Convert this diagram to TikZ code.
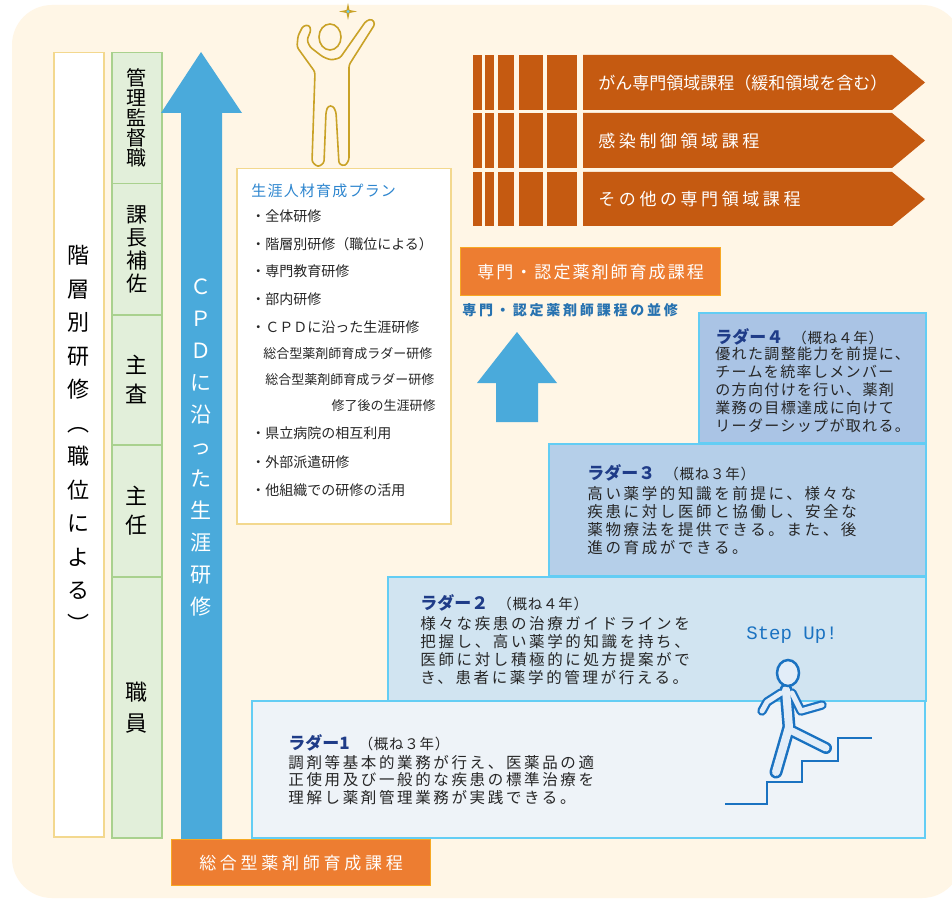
\documentclass[tikz,border=0pt]{standalone}
\usepackage{fontspec}
\setmainfont{Noto Sans CJK JP}
\newfontfamily\stepupfont{Liberation Mono}

\definecolor{cream}{HTML}{FFF6E6}
\definecolor{goldline}{HTML}{F3D88E}
\definecolor{rankfill}{HTML}{E2EFDA}
\definecolor{rankline}{HTML}{A9D18E}
\definecolor{cpdblue}{HTML}{4AAADB}
\definecolor{courseorange}{HTML}{ED7D31}
\definecolor{courseline}{HTML}{F7A823}
\definecolor{fieldbrown}{HTML}{C55A11}
\definecolor{planblue}{HTML}{2E86CF}
\definecolor{laddernavy}{HTML}{1F3C88}
\definecolor{ladderline}{HTML}{63CDF4}
\definecolor{ladderA}{HTML}{EEF3F8}
\definecolor{ladderB}{HTML}{D1E4F1}
\definecolor{ladderC}{HTML}{B5CFE9}
\definecolor{ladderD}{HTML}{AAC4E5}
\definecolor{figgold}{HTML}{C9A227}
\definecolor{walkblue}{HTML}{1A72C1}
\definecolor{walkfill}{HTML}{E2EDF8}

\tikzstyle{box}=[draw=goldline,fill=white,line width=1.5pt,inner sep=0pt,anchor=north west]
\tikzstyle{rank}=[draw=rankline,fill=rankfill,line width=1.5pt,inner sep=0pt,minimum width=50pt,anchor=north west,align=center]
\tikzstyle{vtext}=[inner sep=0pt,align=center]
\tikzstyle{course}=[draw=courseline,fill=courseorange,line width=1.2pt,text=white,inner sep=0pt,anchor=north west]
\tikzstyle{field}=[anchor=west,inner sep=0pt,text=white]
\tikzstyle{item}=[anchor=west,inner sep=0pt,text=black!85,font=\fontsize{14}{16}\selectfont]
\tikzstyle{ladder}=[draw=ladderline,line width=1.5pt,inner sep=0pt,anchor=north west]
\tikzstyle{ladtitle}=[anchor=base west,inner sep=0pt,text=black!85]
% body text: anchored at the baseline of its last line
\tikzstyle{ladbody}=[anchor=base west,inner sep=0pt,align=left,text=black!85,font=\fontsize{15.5}{18}\selectfont\addfontfeature{LetterSpace=17}]

\newcommand\laddertitle[2]{{\fontsize{17}{18}\selectfont\bfseries\color{laddernavy}#1}\hspace{9pt}{\fontsize{14.5}{15}\selectfont\addfontfeature{LetterSpace=5}（概ね#2年）}}

\begin{document}
\begin{tikzpicture}[x=1pt,y=-1pt,thick]
\useasboundingbox[fill=white] (0,0) rectangle (952,901);
\fill[cream,rounded corners=40pt] (12,5) rectangle (962,898);

% rank columns on the left
\node[box,minimum width=50pt,minimum height=784pt] (kaiso) at (53,52) {};
\node[vtext,font=\fontsize{22}{33.5}\selectfont] (kaisotext) at (78,439)
  {階\\層\\別\\研\\修\\︵\\職\\位\\に\\よ\\る\\︶};

\node[rank,minimum height=131pt,font=\fontsize{20}{20}\selectfont] (kanri) at (111,52) {管\\理\\監\\督\\職};
\node[rank,minimum height=131pt,font=\fontsize{21}{23}\selectfont] (kacho) at (111,183) {課\\長\\補\\佐};
\node[rank,minimum height=130pt,font=\fontsize{22}{29}\selectfont] (shusa) at (111,314) {主\\査};
\node[rank,minimum height=132pt,font=\fontsize{22}{29}\selectfont] (shunin) at (111,444) {主\\任};
\node[rank,minimum height=261pt,font=\fontsize{22}{31}\selectfont] (shokuin) at (111,576) {職\\員};

% CPD arrow
\fill[cpdblue] (181,839) -- (181,113) -- (161,113) -- (201,52) -- (242,113) -- (222,113) -- (222,839) -- cycle;
\node[vtext,text=white,font=\fontsize{21}{32}\selectfont] (cpdtext) at (201,447)
  {Ｃ\\Ｐ\\Ｄ\\に\\沿\\っ\\た\\生\\涯\\研\\修};
\node[course,minimum width=259pt,minimum height=46pt,font=\fontsize{17}{18}\selectfont\addfontfeature{LetterSpace=22}] (sogo) at (171,839) {総合型薬剤師育成課程};

% person on top of the plan
\draw[figgold,fill=cream,line width=1.6pt,rounded corners=2.5pt]
  (315,72) -- (297,47) -- (298,36) -- (303,26) -- (309,25) -- (311,30) -- (307,40) -- (310,47)
  -- (323,57) -- (331,60) -- (340,58) -- (366,21) -- (372,19) -- (375,24) -- (349,65)
  -- (349,160) -- (345,166) -- (339,164) -- (336,112) -- (333,106) -- (328,106) -- (326,112)
  -- (324,163) -- (318,167) -- (312,162) -- cycle;
\draw[figgold,fill=cream,line width=1.6pt] (330,37) ellipse [x radius=11,y radius=13];
\fill[figgold] (348,3) -- (349.5,10) -- (357,11.5) -- (349.5,13) -- (348,20) -- (346.5,13) -- (339,11.5) -- (346.5,10) -- cycle;
\fill[cyan!60] (348,11.5) circle (1.6);

% career plan
\node[box,minimum width=214pt,minimum height=355pt] (plan) at (236,168) {};
\node[anchor=west,inner sep=0pt,text=planblue,font=\fontsize{15}{16}\selectfont\addfontfeature{LetterSpace=8}] (plantitle) at (251,191) {生涯人材育成プラン};
\foreach \y/\t in {216/全体研修,244/階層別研修（職位による）,271/専門教育研修,299/部内研修,327/ＣＰＤに沿った生涯研修,433/県立病院の相互利用,462/外部派遣研修,490/他組織での研修の活用}
  \node[item] (item\y) at (251,\y) {・\t};
\node[item,font=\fontsize{13}{14}\selectfont] (ladderplan) at (263,354) {総合型薬剤師育成ラダー研修};
\node[item,font=\fontsize{13}{14}\selectfont] (ladderplanb) at (265,380) {総合型薬剤師育成ラダー研修};
\node[item,anchor=east,font=\fontsize{13}{14}\selectfont] (afterplan) at (436,406) {修了後の生涯研修};

% specialist fields
\foreach \ya/\yb in {55/110,113/168,172/226} {
  \foreach \xa/\xb in {473/482,485/494,498/514,519/543,547/577}
    \fill[fieldbrown] (\xa,\ya) rectangle (\xb,\yb);
  \fill[fieldbrown] (583,\ya) -- (892,\ya) -- (925,{(\ya+\yb)/2}) -- (892,\yb) -- (583,\yb) -- cycle;
}
\node[field,font=\fontsize{17}{18}\selectfont] (gan) at (598,83) {がん専門領域課程（緩和領域を含む）};
\node[field,font=\fontsize{17}{18}\selectfont\addfontfeature{LetterSpace=21}] (kansen) at (598,141) {感染制御領域課程};
\node[field,font=\fontsize{17}{18}\selectfont\addfontfeature{LetterSpace=21}] (sonota) at (598,199) {その他の専門領域課程};

\node[course,minimum width=260pt,minimum height=48pt,font=\fontsize{17}{18}\selectfont\addfontfeature{LetterSpace=12}] (senmon) at (460,247) {専門・認定薬剤師育成課程};
\node[anchor=west,inner sep=0pt,text=planblue!85!black,font=\fontsize{14}{15}\selectfont\bfseries\addfontfeature{LetterSpace=20}] (heishu) at (462,310) {専門・認定薬剤師課程の並修};
\fill[cpdblue] (496,422) -- (496,383) -- (477,383) -- (517,332) -- (557,383) -- (538,383) -- (538,422) -- cycle;

% ladder steps
\node[ladder,fill=ladderD,minimum width=227pt,minimum height=130pt] (ladder4) at (698,312) {};
\node[ladder,fill=ladderC,minimum width=377pt,minimum height=132pt] (ladder3) at (548,443) {};
\node[ladder,fill=ladderB,minimum width=538pt,minimum height=124pt] (ladder2) at (387,576) {};
\node[ladder,fill=ladderA,minimum width=673pt,minimum height=137pt] (ladder1) at (251,700) {};

\node[ladtitle] (title4) at (715,343.5) {\laddertitle{ラダー４}{４}};
\node[ladbody,font=\fontsize{15}{18}\selectfont\addfontfeature{LetterSpace=9}] (body4) at (715,431)
  {優れた調整能力を前提に、\\チームを統率しメンバー\\の方向付けを行い、薬剤\\業務の目標達成に向けて\\リーダーシップが取れる。};
\node[ladtitle] (title3) at (587,479.5) {\laddertitle{ラダー３}{３}};
\node[ladbody] (body3) at (587,553)
  {高い薬学的知識を前提に、様々な\\疾患に対し医師と協働し、安全な\\薬物療法を提供できる。また、後\\進の育成ができる。};
\node[ladtitle] (title2) at (420,609.5) {\laddertitle{ラダー２}{４}};
\node[ladbody] (body2) at (420,683)
  {様々な疾患の治療ガイドラインを\\把握し、高い薬学的知識を持ち、\\医師に対し積極的に処方提案がで\\き、患者に薬学的管理が行える。};
\node[ladtitle] (title1) at (288,749.5) {\laddertitle{ラダー1}{３}};
\node[ladbody,font=\fontsize{15.5}{17.7}\selectfont\addfontfeature{LetterSpace=17}] (body1) at (288,803.5)
  {調剤等基本的業務が行え、医薬品の適\\正使用及び一般的な疾患の標準治療を\\理解し薬剤管理業務が実践できる。};

% step up figure
\node[inner sep=0pt,text=walkblue,font=\stepupfont\fontsize{19}{20}\selectfont] (stepup) at (792,635) {Step Up!};
\draw[walkblue,line width=2.5pt] (725,804) -| (767,782) -| (802,761) -| (838,738) -- (872,738);
\draw[walkblue,line width=13pt,line cap=round,line join=round] (786,690) -- (789,727) -- (776,772);
\draw[walkblue,line width=12pt,line cap=round] (792,731) -- (826,748);
\draw[walkblue,line width=9.5pt,line cap=round,line join=round] (781,693) -- (767,702) -- (762,711);
\draw[walkblue,line width=9.5pt,line cap=round,line join=round] (792,693) -- (801,711) -- (822,705);
\draw[walkfill,line width=8pt,line cap=round,line join=round] (786,690) -- (789,727) -- (776,772);
\draw[walkfill,line width=7pt,line cap=round] (792,731) -- (826,748);
\draw[walkfill,line width=5pt,line cap=round,line join=round] (781,693) -- (767,702) -- (762,711);
\draw[walkfill,line width=5pt,line cap=round,line join=round] (792,693) -- (801,711) -- (822,705);
\draw[walkblue,fill=walkfill,line width=2.5pt] (788,673) ellipse [x radius=11,y radius=13];
\end{tikzpicture}
\end{document}
